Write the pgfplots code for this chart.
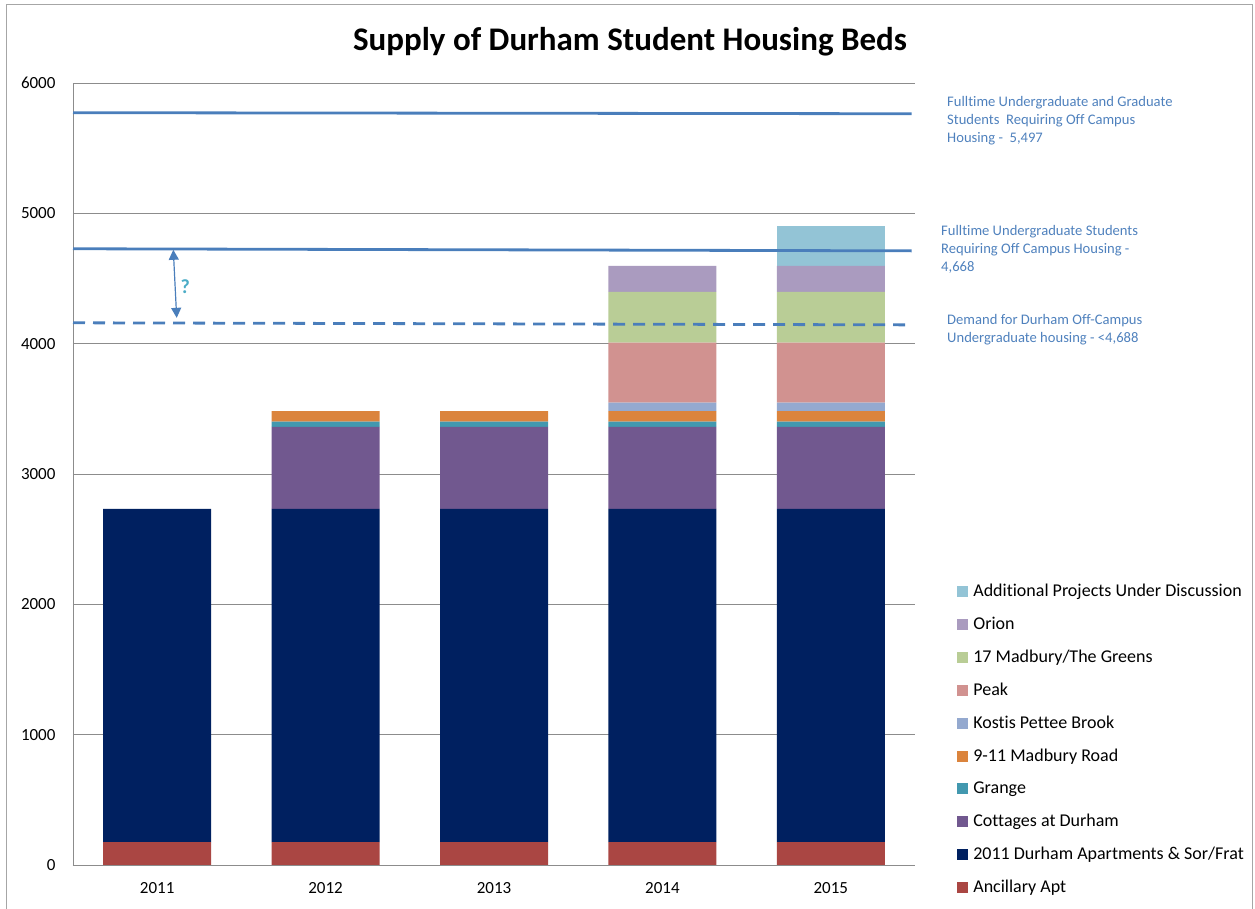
\documentclass[border=0pt]{standalone}
\usepackage{fontspec}
\setmainfont{Carlito}[Ligatures={NoCommon}]
\usepackage{pgfplots}
\pgfplotsset{compat=1.18}
\usepackage{pgfplotstable}
\usetikzlibrary{arrows.meta}

\definecolor{cAdd}{HTML}{93C4D6}
\definecolor{cOrion}{HTML}{AA9BBF}
\definecolor{cGreen}{HTML}{B9CD96}
\definecolor{cPeak}{HTML}{D19290}
\definecolor{cKostis}{HTML}{94A9CF}
\definecolor{cMad}{HTML}{DB843D}
\definecolor{cGrange}{HTML}{4298AF}
\definecolor{cCott}{HTML}{71588F}
\definecolor{cDur}{HTML}{002060}
\definecolor{cAnc}{HTML}{AA4643}
\definecolor{lineblue}{HTML}{4A7EBB}
\definecolor{textblue}{HTML}{4F81BD}
\definecolor{qcol}{HTML}{4BACC6}
\definecolor{gridgray}{HTML}{8C8C8C}

\pgfplotstableread{
x anc dur cot gra mad kos peak green orion add
0 175 2557 0 0 0 0 0 0 0 0
1 175 2557 630 40 80 0 0 0 0 0
2 175 2557 630 40 80 0 0 0 0 0
3 175 2557 630 40 80 65 460 390 200 0
4 175 2557 630 40 80 65 460 390 200 305
}\beds

\begin{document}
\begin{tikzpicture}[x=1pt,y=1pt]
\useasboundingbox (0pt,0pt) rectangle (1255pt,909pt);
\draw[gray!70, line width=1pt] (6.5pt,0pt) -- (6.5pt,904pt) -- (1252pt,904pt) -- (1252pt,0pt);
\node[font=\fontsize{33}{38}\selectfont\bfseries] at (630pt,867pt) {Supply of Durham Student Housing Beds};
\begin{axis}[
  at={(73pt,44pt)}, anchor=south west, scale only axis,
  width=842pt, height=782pt,
  ybar stacked, bar width=108pt,
  xmin=-0.5, xmax=4.5, ymin=0, ymax=6000,
  xtick={0,1,2,3,4}, xticklabels={2011,2012,2013,2014,2015},
  ytick={0,1000,2000,3000,4000,5000,6000},
  ymajorgrids, grid style={gridgray, line width=0.9pt},
  axis x line*=bottom, axis y line*=left,
  axis line style={gridgray, line width=0.9pt, -},
  major tick length=0pt,
  tick label style={font=\fontsize{17}{20}\selectfont},
  /pgf/number format/assume math mode=true,
  /pgf/number format/1000 sep={},
  yticklabel style={xshift=-14pt},
  xticklabel style={yshift=-14pt},
  reverse legend,
  legend cell align=left,
  legend style={at={(1.0465,0.3645)}, anchor=north west, draw=none, fill=none,
    font=\fontsize{18}{21}\selectfont, row sep=15pt,
    /tikz/every odd column/.append style={column sep=3pt}},
  legend image code/.code={\fill[#1] (0pt,-5.5pt) rectangle (11pt,5.5pt);},
]
\addplot[fill=cAnc, draw=none] table[x=x,y=anc]{\beds};
\addlegendentry{Ancillary Apt}
\addplot[fill=cDur, draw=none] table[x=x,y=dur]{\beds};
\addlegendentry{2011 Durham Apartments \& Sor/Frat}
\addplot[fill=cCott, draw=none] table[x=x,y=cot]{\beds};
\addlegendentry{Cottages at Durham}
\addplot[fill=cGrange, draw=none] table[x=x,y=gra]{\beds};
\addlegendentry{Grange}
\addplot[fill=cMad, draw=none] table[x=x,y=mad]{\beds};
\addlegendentry{9-11 Madbury Road}
\addplot[fill=cKostis, draw=none] table[x=x,y=kos]{\beds};
\addlegendentry{Kostis Pettee Brook}
\addplot[fill=cPeak, draw=none] table[x=x,y=peak]{\beds};
\addlegendentry{Peak}
\addplot[fill=cGreen, draw=none] table[x=x,y=green]{\beds};
\addlegendentry{17 Madbury/The Greens}
\addplot[fill=cOrion, draw=none] table[x=x,y=orion]{\beds};
\addlegendentry{Orion}
\addplot[fill=cAdd, draw=none] table[x=x,y=add]{\beds};
\addlegendentry{Additional Projects Under Discussion}
\end{axis}
\begin{axis}[
  at={(73pt,44pt)}, anchor=south west, scale only axis,
  width=842pt, height=782pt,
  xmin=-0.5, xmax=4.5, ymin=0, ymax=6000,
  axis lines=none, clip=false,
]
\addplot[lineblue, line width=2.8pt, no marks] coordinates {(-0.5,5772) (4.48,5764)};
\addplot[lineblue, line width=2.8pt, no marks] coordinates {(-0.5,4728) (4.48,4712)};
\addplot[lineblue, line width=2.8pt, no marks, dash pattern=on 12pt off 8pt] coordinates {(-0.5,4160) (4.48,4144)};
\addplot[lineblue, line width=1.2pt, no marks, {Triangle[width=10pt,length=10pt]}-{Triangle[width=10pt,length=10pt]}] coordinates {(0.0956,4720) (0.1158,4198)};
\node[text=qcol, font=\fontsize{20}{23}\selectfont\bfseries] at (axis cs:0.166,4435) {?};
\end{axis}
\begin{scope}[every node/.style={anchor=base west, inner sep=0pt, text=textblue, font=\fontsize{14.6}{17}\selectfont}]
\node at (947pt,802.5pt) {Fulltime Undergraduate and Graduate};
\node at (947pt,784.5pt) {Students\ \ Requiring Off Campus};
\node at (947pt,766.5pt) {Housing -\ \ 5,497};
\node at (941pt,673pt) {Fulltime Undergraduate Students};
\node at (941pt,655pt) {Requiring Off Campus Housing -};
\node at (941pt,637pt) {4,668};
\node at (947pt,584pt) {Demand for Durham Off-Campus};
\node at (947pt,566pt) {Undergraduate housing - <4,688};
\end{scope}
\end{tikzpicture}
\end{document}
